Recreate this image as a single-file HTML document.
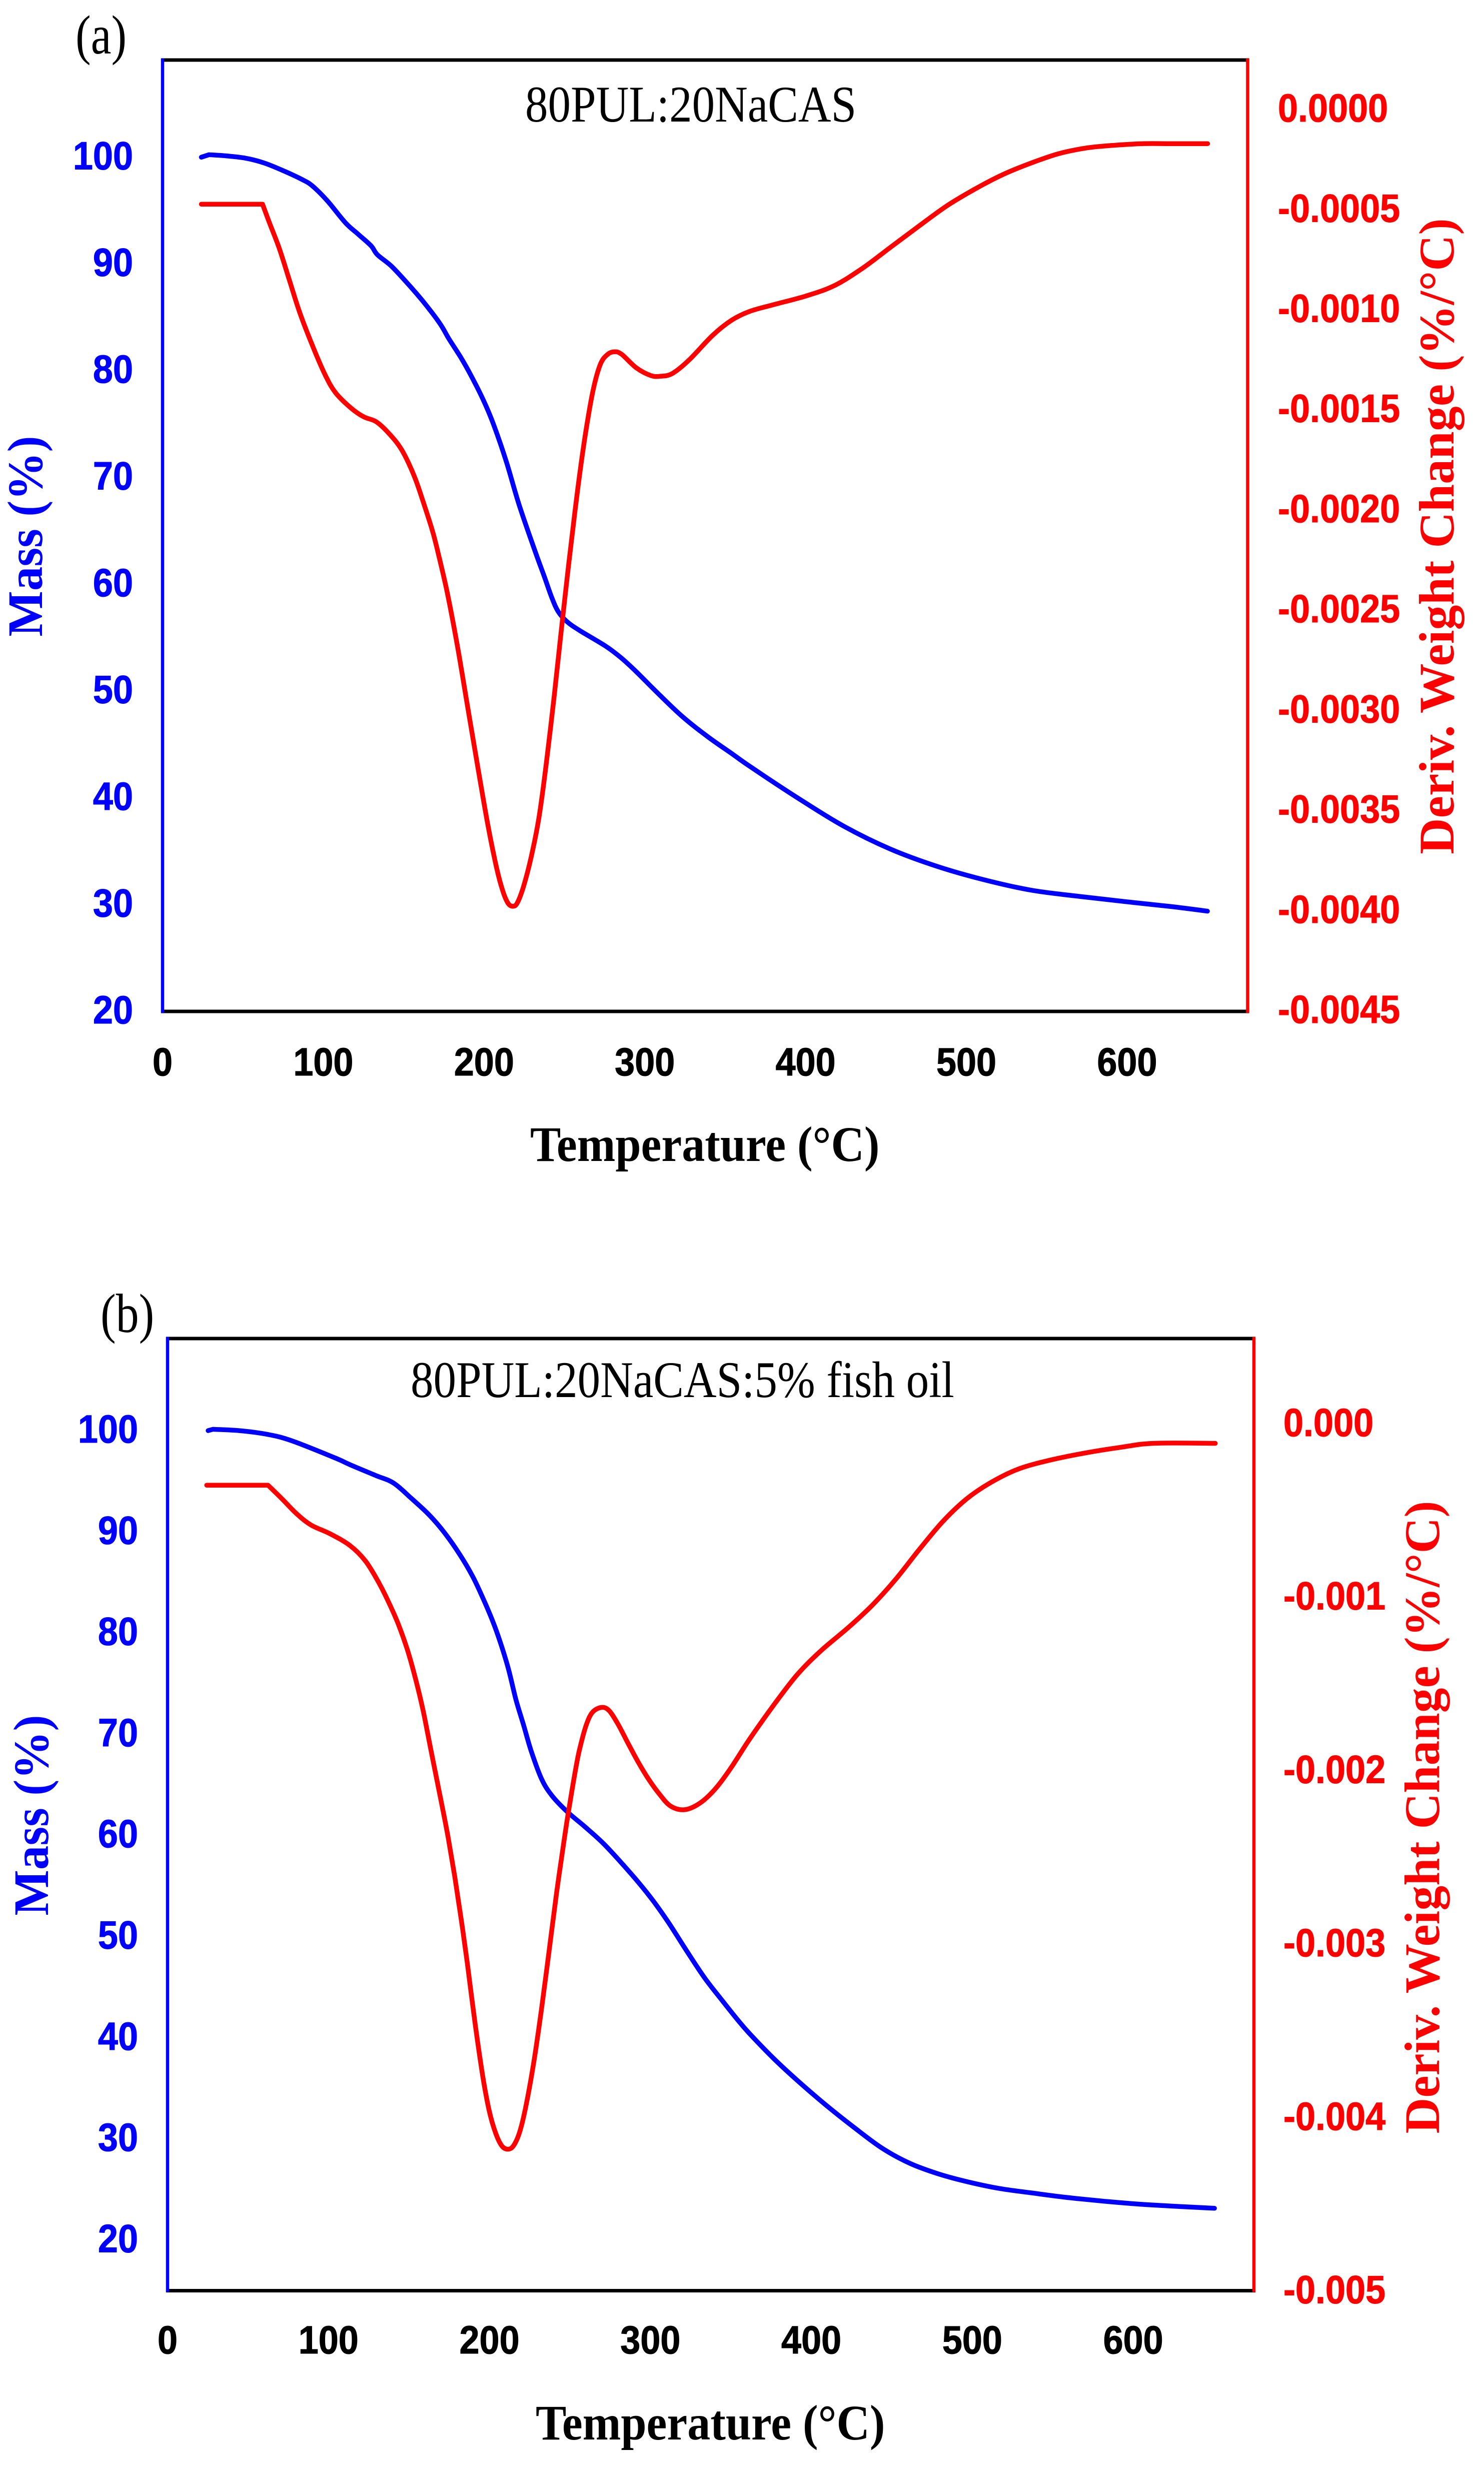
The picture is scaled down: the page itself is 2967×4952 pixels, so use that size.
<!DOCTYPE html>
<html lang="en">
<head>
<meta charset="utf-8">
<title>TGA and DTG curves</title>
<style>
html,body{margin:0;padding:0;background:#fff;}
svg{display:block;}
</style>
</head>
<body>
<svg id="figure" xmlns="http://www.w3.org/2000/svg" width="2967" height="4952" viewBox="0 0 2967 4952"></svg>
<script>
// x tick labels (°C) shared by both panels
const xTickLabels = [0, 100, 200, 300, 400, 500, 600];

// Panel (a): mass (%) tick labels and derivative tick labels (%/°C)
const massTicksA = [100, 90, 80, 70, 60, 50, 40, 30, 20];
const derivTicksA = ["0.0000", "-0.0005", "-0.0010", "-0.0015", "-0.0020", "-0.0025", "-0.0030", "-0.0035", "-0.0040", "-0.0045"];

// Panel (b)
const massTicksB = [100, 90, 80, 70, 60, 50, 40, 30, 20];
const derivTicksB = ["0.000", "-0.001", "-0.002", "-0.003", "-0.004", "-0.005"];

// Panel (a) mass series
const massTempA = [24.1,28.9,39.2,51.9,63,74.1,86.8,93.2,102.7,113.8,121.8,129.7,133.7,142.4,153.5,163,172.6,178.1,185.3,191.6,199.6,205.9,213.8,221.8,231.5,237.3,242.1,246.1,251.6,259.6,275.4,285,294.5,307.2,323,339,354.8,365.6,394.6,423.7,452.8,481.9,511,540.1,569.2,598.3,627.4,650];
const massValA = [100,100.23,100.13,99.9,99.47,98.8,97.91,97.31,95.88,93.85,92.77,91.7,90.86,89.79,87.99,86.32,84.41,83,81.3,79.63,77.24,74.97,71.5,67.44,63.19,60.8,58.77,57.45,56.5,55.66,54.23,53.15,51.84,49.93,47.66,45.74,44.07,42.92,40.04,37.35,35.2,33.58,32.33,31.36,30.79,30.29,29.82,29.39];

// Panel (a) derivative series, in units of 0.001 %/°C
const derivTempA = [24.1,62.2,66.2,72.6,78.9,85.3,93.2,101.1,107.5,117,125,132.9,140.8,148.8,156.7,163,167.8,171,177,183.4,189.7,196.1,202.4,208,211.9,215.1,218,220.7,224.6,229.4,234.2,238.9,243.7,247.6,251.6,254,258.3,263,267.8,272.3,276.8,281.3,285.7,294.7,303.6,309.5,317,327.4,342.2,354.2,365.5,380,400.4,417.9,435.3,452.8,470.3,487.7,505.2,522.6,540.1,557.6,575,592.5,609.9,627.4,650.1];
const derivValA = [-0.4697,-0.4697,-0.5563,-0.69,-0.849,-1.01,-1.175,-1.321,-1.41,-1.486,-1.531,-1.556,-1.614,-1.697,-1.83,-1.977,-2.098,-2.197,-2.405,-2.675,-2.975,-3.28,-3.57,-3.79,-3.905,-3.962,-3.975,-3.958,-3.875,-3.726,-3.53,-3.25,-2.92,-2.63,-2.34,-2.175,-1.89,-1.62,-1.4,-1.27,-1.22,-1.2067,-1.22,-1.2869,-1.3251,-1.3289,-1.3155,-1.2487,-1.1245,-1.0481,-1.0042,-0.9717,-0.9278,-0.8762,-0.7903,-0.6853,-0.5802,-0.479,-0.3949,-0.3224,-0.265,-0.2173,-0.1887,-0.1753,-0.1676,-0.1676,-0.1676];

// Panel (b) mass series
const massTempB = [25.2,28.2,44.6,62.4,77.3,104.1,113.4,129.3,140.4,151.5,162.6,172.1,181.6,189.5,195.8,202.2,206.9,211.7,216.5,221.2,226,232.3,238.7,248.2,259.3,270.4,281.5,292.6,302.1,311.6,322.7,333.8,344.9,354.4,362,376.9,391.5,409,426.4,443.9,461.3,478.8,496.3,516.6,537,557.4,580.7,606.8,650.5];
const massValB = [100,100.13,100,99.62,98.99,97.3,96.63,95.57,94.82,93.3,91.66,89.9,87.75,85.61,83.5,81.1,79,76.5,73.4,70.9,68.3,65.6,63.95,62.35,60.85,59.26,57.37,55.35,53.45,51.3,48.54,45.89,43.62,41.73,40.34,37.9,35.75,33.35,31.15,29.09,27.58,26.55,25.79,25.11,24.66,24.24,23.86,23.52,23.14];

// Panel (b) derivative series, in units of 0.001 %/°C
const derivTempB = [24.3,62.4,71.3,80.3,89.2,101.1,113.4,122.9,130.8,137.2,143.5,149.1,153.8,158.6,163.3,168.1,170.8,174.4,178.4,182.4,186.3,191.1,195.8,199.8,203.8,207.7,211.4,214.9,218.8,222.8,227.6,232.3,237.1,241.8,246.6,249,253.7,256.1,260.1,264,269.6,274.3,279.9,286.2,292.6,298.9,305.2,312.4,321.1,330.6,340.1,349.6,362,376.9,391.5,406,423.5,438.1,452.6,467.2,481.7,496.3,510.8,528.3,548.6,571.9,592.3,612.7,651];
const derivValB = [-0.3556,-0.3556,-0.4361,-0.5212,-0.5856,-0.6362,-0.704,-0.792,-0.91,-1.027,-1.16,-1.307,-1.462,-1.646,-1.867,-2.09,-2.215,-2.39,-2.61,-2.855,-3.115,-3.46,-3.76,-3.96,-4.09,-4.165,-4.184,-4.165,-4.085,-3.93,-3.68,-3.38,-3.04,-2.7,-2.39,-2.245,-1.985,-1.875,-1.74,-1.665,-1.637,-1.655,-1.734,-1.845,-1.955,-2.051,-2.132,-2.205,-2.227,-2.19,-2.109,-1.992,-1.815,-1.62,-1.445,-1.3101,-1.1721,-1.0456,-0.8961,-0.725,-0.565,-0.4361,-0.3441,-0.2636,-0.2107,-0.167,-0.1371,-0.1141,-0.1141];

const SVG_NS = "http://www.w3.org/2000/svg";
const root = document.getElementById("figure");
const SANS = '"Liberation Sans", Arial, sans-serif';
const SERIF = '"Liberation Serif", "Times New Roman", serif';
const STRETCH = 1.1;

function makeText(parent, name, str, opts) {
  const el = document.createElementNS(SVG_NS, "text");
  
  
  el.setAttribute("font-family", opts.family);
  el.setAttribute("font-size", opts.size);
  if (opts.bold) el.setAttribute("font-weight", "bold");
  el.setAttribute("fill", opts.fill);
  if (opts.weight) {
    el.setAttribute("stroke", opts.fill);
    el.setAttribute("stroke-width", opts.weight);
  }
  el.setAttribute("text-anchor", opts.anchor || "start");
  if (opts.rotated) {
    el.setAttribute("transform", "translate(" + opts.x + "," + opts.y + ") rotate(-90) scale(" + (opts.sx || 1) + ",1)");
  } else {
    el.setAttribute("transform", "translate(" + opts.x + "," + opts.y + ") scale(1," + (opts.sy || STRETCH) + ")");
  }
  el.textContent = str;
  parent.appendChild(el);
  return el;
}

function makeLine(parent, name, x1, y1, x2, y2, color, width) {
  const el = document.createElementNS(SVG_NS, "line");
  
  
  el.setAttribute("x1", x1);
  el.setAttribute("y1", y1);
  el.setAttribute("x2", x2);
  el.setAttribute("y2", y2);
  el.setAttribute("stroke", color);
  el.setAttribute("stroke-width", width);
  parent.appendChild(el);
  return el;
}

function splinePath(pts) {
  // straight first segment (plateau / start), Catmull-Rom for the remainder
  let d = "M" + pts[0][0].toFixed(1) + " " + pts[0][1].toFixed(1) + " L" + pts[1][0].toFixed(1) + " " + pts[1][1].toFixed(1);
  for (let i = 1; i < pts.length - 1; i++) {
    const p0 = pts[i - 1 < 1 ? 1 : i - 1];
    const p1 = pts[i];
    const p2 = pts[i + 1];
    const p3 = pts[i + 2 > pts.length - 1 ? pts.length - 1 : i + 2];
    const c1x = p1[0] + (p2[0] - p0[0]) / 6;
    const c1y = p1[1] + (p2[1] - p0[1]) / 6;
    const c2x = p2[0] - (p3[0] - p1[0]) / 6;
    const c2y = p2[1] - (p3[1] - p1[1]) / 6;
    d += " C" + c1x.toFixed(1) + " " + c1y.toFixed(1) + " " + c2x.toFixed(1) + " " + c2y.toFixed(1) + " " + p2[0].toFixed(1) + " " + p2[1].toFixed(1);
  }
  return d;
}

function makeCurve(parent, name, xs, ys, xFn, yFn, color) {
  const pts = xs.map(function (t, i) { return [xFn(t), yFn(ys[i])]; });
  const el = document.createElementNS(SVG_NS, "path");
  
  
  el.setAttribute("d", splinePath(pts));
  el.setAttribute("fill", "none");
  el.setAttribute("stroke", color);
  el.setAttribute("stroke-width", 9.5);
  el.setAttribute("stroke-linecap", "round");
  el.setAttribute("stroke-linejoin", "round");
  parent.appendChild(el);
}

function drawPanel(p) {
  const g = document.createElementNS(SVG_NS, "g");
  
  
  root.appendChild(g);

  const xFn = function (t) { return p.left + (t - 0) / 675 * (p.right - p.left); };
  const yMass = function (v) { return p.bottom - (v - p.massMin) / (p.massMax - p.massMin) * (p.bottom - p.top); };
  const yDeriv = function (v) { return p.bottom - (v - p.derivMin) / (p.derivMax - p.derivMin) * (p.bottom - p.top); };

  makeLine(g, "top-border", p.left - 3, p.top, p.right + 3, p.top, "#000000", 7);
  makeLine(g, "x-axis-line", p.left - 3, p.bottom, p.right + 3, p.bottom, "#000000", 7);
  makeLine(g, "mass-axis-line", p.left, p.top - 3, p.left, p.bottom + 3, "#0000ff", 6.5);
  makeLine(g, "deriv-axis-line", p.right, p.top - 3, p.right, p.bottom + 3, "#ff0000", 6.5);

  xTickLabels.forEach(function (t) {
    makeText(g, "x-tick-" + t, String(t), { family: SANS, size: 72, bold: true, weight: 1, fill: "#000000", anchor: "middle", x: xFn(t), y: p.xTickBase });
  });
  p.massTicks.forEach(function (v) {
    makeText(g, "mass-tick-" + v, String(v), { family: SANS, size: 72, bold: true, weight: 1, fill: "#0000ff", anchor: "end", x: p.massTickX, y: yMass(v) + 24 });
  });
  p.derivTicks.forEach(function (s) {
    makeText(g, "deriv-tick-" + s, s, { family: SANS, size: 72, bold: true, weight: 1, fill: "#ff0000", x: p.derivTickX, y: yDeriv(parseFloat(s) * 1000) + p.derivTickShift });
  });

  makeText(g, "panel-label", p.panelLabel, { family: SERIF, size: 92, fill: "#000000", x: p.panelX, y: p.panelY, sy: 1.2 });
  makeText(g, "panel-title", p.title, { family: SERIF, size: 91, fill: "#000000", x: p.titleX, y: p.titleY, sy: 1.13 });
  makeText(g, "x-axis-title", "Temperature (°C)", { family: SERIF, size: 92, bold: true, fill: "#000000", x: p.xTitleX, y: p.xTitleY, sy: 1.08 });
  makeText(g, "mass-axis-title", "Mass (%)", { family: SERIF, size: 100, bold: true, fill: "#0000ff", anchor: "middle", rotated: true, sx: 0.97, x: p.massTitleX, y: p.titleMidY });
  makeText(g, "deriv-axis-title", "Deriv. Weight Change (%/°C)", { family: SERIF, size: 100, bold: true, fill: "#ff0000", anchor: "middle", rotated: true, sx: p.derivTitleScale, x: p.derivTitleX, y: p.titleMidY2 });

  makeCurve(g, "mass-curve", p.massT, p.massV, xFn, yMass, "#0000ff");
  makeCurve(g, "deriv-curve", p.derivT, p.derivV, xFn, yDeriv, "#ff0000");
}

drawPanel({
  name: "panel-a", panelLabel: "(a)", title: "80PUL:20NaCAS",
  left: 325, right: 2494.5, top: 120, bottom: 2022,
  massMin: 20, massMax: 109.1, derivMin: -4.5, derivMax: 0.25,
  massTicks: massTicksA, derivTicks: derivTicksA,
  massT: massTempA, massV: massValA, derivT: derivTempA, derivV: derivValA,
  xTickBase: 2150, massTickX: 266, derivTickX: 2555, derivTickShift: 23,
  panelX: 151, panelY: 107, titleX: 1050, titleY: 243,
  xTitleX: 1060, xTitleY: 2321, massTitleX: 84, derivTitleX: 2906, derivTitleScale: 1, titleMidY: 1072, titleMidY2: 1072
});

drawPanel({
  name: "panel-b", panelLabel: "(b)", title: "80PUL:20NaCAS:5% fish oil",
  left: 335, right: 2507, top: 2676, bottom: 4579.5,
  massMin: 15, massMax: 109.1, derivMin: -5, derivMax: 0.49,
  massTicks: massTicksB, derivTicks: derivTicksB,
  massT: massTempB, massV: massValB, derivT: derivTempB, derivV: derivValB,
  xTickBase: 4705, massTickX: 276, derivTickX: 2566, derivTickShift: 25,
  panelX: 201, panelY: 2663, titleX: 821, titleY: 2793,
  xTitleX: 1071, xTitleY: 4877, massTitleX: 96, derivTitleX: 2877, derivTitleScale: 0.995, titleMidY: 3629, titleMidY2: 3633
});
</script>
</body>
</html>
